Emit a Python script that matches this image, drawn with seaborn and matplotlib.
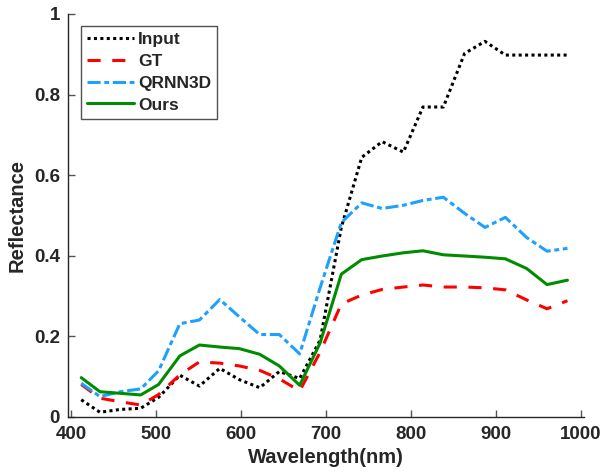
import pandas as pd
import matplotlib
matplotlib.use('Agg')
import matplotlib.pyplot as plt
import seaborn as sns

# datos
wavelength = [412, 434, 458, 482, 503, 528, 551, 575, 598, 622, 645, 669, 693,
              718, 742, 766, 791, 814, 838, 863, 887, 911, 936, 960, 984]
input_vals = [0.042, 0.011, 0.018, 0.021, 0.048, 0.103, 0.076, 0.120, 0.092, 0.072, 0.112, 0.095, 0.19,
              0.47, 0.644, 0.683, 0.657, 0.769, 0.769, 0.902, 0.932, 0.898, 0.898, 0.898, 0.898]
gt_vals = [0.080, 0.046, 0.037, 0.029, 0.055, 0.104, 0.136, 0.133, 0.126, 0.115, 0.094, 0.064, 0.16,
           0.28, 0.302, 0.316, 0.322, 0.327, 0.322, 0.322, 0.32, 0.315, 0.29, 0.268, 0.288]
qrnn_vals = [0.083, 0.050, 0.062, 0.069, 0.114, 0.231, 0.240, 0.291, 0.248, 0.204, 0.204, 0.156, 0.32,
             0.482, 0.531, 0.517, 0.525, 0.537, 0.545, 0.505, 0.470, 0.495, 0.445, 0.411, 0.418]
ours_vals = [0.097, 0.062, 0.058, 0.054, 0.080, 0.151, 0.178, 0.173, 0.169, 0.155, 0.126, 0.078, 0.183,
             0.354, 0.390, 0.399, 0.407, 0.412, 0.402, 0.399, 0.396, 0.392, 0.368, 0.328, 0.339]

x_ticks = [400, 500, 600, 700, 800, 900, 1000]
y_ticks = [0, 0.2, 0.4, 0.6, 0.8, 1]
y_tick_labels = ['0', '0.2', '0.4', '0.6', '0.8', '1']

sns.set_style('white')
plt.rcParams['font.family'] = ['Liberation Sans', 'DejaVu Sans']
plt.rcParams['font.weight'] = 'bold'

fig = plt.figure(figsize=(6.03, 4.76), dpi=100)
ax = fig.add_axes([0.1133, 0.1246, 0.8552, 0.846])

series = [
    ('Input', input_vals, 'black', (0, (1, 1.1))),
    ('GT', gt_vals, '#ff0000', (0, (4.3, 3.8))),
    ('QRNN3D', qrnn_vals, '#1ea0ff', (0, (4.3, 1.2, 1.6, 1.2))),
    ('Ours', ours_vals, '#008c00', '-'),
]
for name, vals, color, ls in series:
    sns.lineplot(x=wavelength, y=vals, ax=ax, color=color, linestyle=ls,
                 linewidth=2.2, label=name)

ax.set_xlim(396.8, 1003.5)
ax.set_ylim(0, 1)
ax.set_xticks(x_ticks)
ax.set_yticks(y_ticks)
ax.set_yticklabels(y_tick_labels)
ax.tick_params(bottom=True, left=True, direction='in', length=5, width=1,
               color='#555555', labelcolor='#262626', labelsize=13.5)
ax.tick_params(axis='y', pad=6)
ax.tick_params(axis='x', pad=7)
for lab in ax.get_xticklabels() + ax.get_yticklabels():
    lab.set_fontweight('bold')
ax.set_xlabel('Wavelength(nm)', fontsize=14.5, fontweight='bold', color='#262626', labelpad=3)
ax.set_ylabel('Reflectance', fontsize=14.5, fontweight='bold', color='#262626', labelpad=5)

for s in ['top', 'right']:
    ax.spines[s].set_visible(False)
for s in ['left', 'bottom']:
    ax.spines[s].set_color('#262626')
    ax.spines[s].set_linewidth(1)

leg = ax.legend(loc='upper left', bbox_to_anchor=(0.0246, 0.970), frameon=True, fancybox=False,
                edgecolor='#262626', handlelength=2.7, handletextpad=0.25, borderpad=0.35,
                labelspacing=0.38, borderaxespad=0, prop={'weight': 'bold', 'size': 12.5})
leg.get_frame().set_linewidth(1)

fig.savefig('out.png', dpi=100)
